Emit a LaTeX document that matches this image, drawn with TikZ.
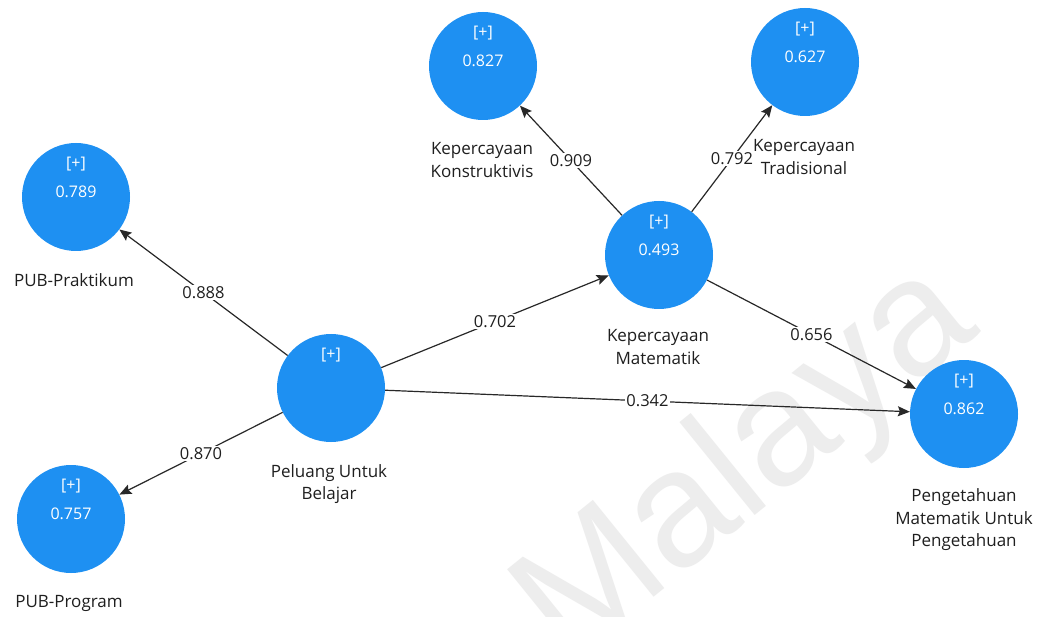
\documentclass[tikz,border=0pt]{standalone}
\usepackage{fontspec}
\setmainfont{Open Sans}
\newfontfamily\wmfont{Liberation Sans}
\usetikzlibrary{arrows.meta}
\definecolor{lvblue}{RGB}{30,144,242}
\definecolor{edgegray}{RGB}{40,40,40}
\definecolor{wmgray}{RGB}{237,237,237}
\begin{document}
\begin{tikzpicture}[x=1pt,y=-1pt,
  latent/.style={circle,fill=lvblue,draw=none,minimum size=108pt,inner sep=0pt},
  inner/.style={text=white,font=\fontsize{16}{18}\selectfont,inner sep=0pt},
  caption/.style={align=center,font=\fontsize{17}{22.5}\selectfont,text=black!88,inner sep=0pt},
  path/.style={draw=edgegray,line width=1.2pt,-{Stealth[length=12pt,width=10pt,inset=2pt]}},
  coef/.style={fill=white,inner sep=1.5pt,font=\fontsize{16.5}{18}\selectfont,text=black!88}]
\useasboundingbox (0,0) rectangle (1046,617);
\fill[white] (0,0) rectangle (1046,617);
% faint watermark behind the model
\node[text=wmgray,font=\wmfont\fontsize{165}{165}\selectfont,rotate=39,inner sep=0pt] (wm) at (748,466) {Malaya};

% latent variables
\node[latent] (prak) at (76,197) {};
\node[latent] (prog) at (71,519) {};
\node[latent] (pub) at (331,388) {};
\node[latent] (kmat) at (659,255) {};
\node[latent] (kon) at (483,66) {};
\node[latent] (tra) at (805,62) {};
\node[latent] (pmu) at (964,414) {};

% contents of the circles
\foreach \n/\v in {prak/0.789,prog/0.757,kmat/0.493,kon/0.827,tra/0.627,pmu/0.862}{
  \node[inner] (\n-plus) at ([yshift=33pt]\n.center) {[+]};
  \node[inner] (\n-r2) at ([yshift=5pt]\n.center) {\v};
}
\node[inner] (pub-plus) at ([yshift=33pt]pub.center) {[+]};

% captions
\node[caption] (prak-t) at (74,280) {PUB-Praktikum};
\node[caption] (prog-t) at (69,603) {PUB-Program};
\node[caption] (pub-t) at (329,484) {Peluang Untuk\\Belajar};
\node[caption] (kmat-t) at (658,347) {Kepercayaan\\Matematik};
\node[caption] (kon-t) at (482,160) {Kepercayaan\\Konstruktivis};
\node[caption] (tra-t) at (804,157) {Kepercayaan\\Tradisional};
\node[caption] (pmu-t) at (964,520) {Pengetahuan\\Matematik Untuk\\Pengetahuan};

% paths with coefficients
\draw[path] (pub) -- node[coef] (c1) {0.888} (prak);
\draw[path] (pub) -- node[coef] (c2) {0.870} (prog);
\draw[path] (pub) -- node[coef] (c3) {0.702} (kmat);
\draw[path] (pub) -- node[coef] (c4) {0.342} (pmu);
\draw[path] (kmat) -- node[coef] (c5) {0.909} (kon);
\draw[path] (kmat) -- node[coef] (c6) {0.792} (tra);
\draw[path] (kmat) -- node[coef] (c7) {0.656} (pmu);
\end{tikzpicture}
\end{document}
